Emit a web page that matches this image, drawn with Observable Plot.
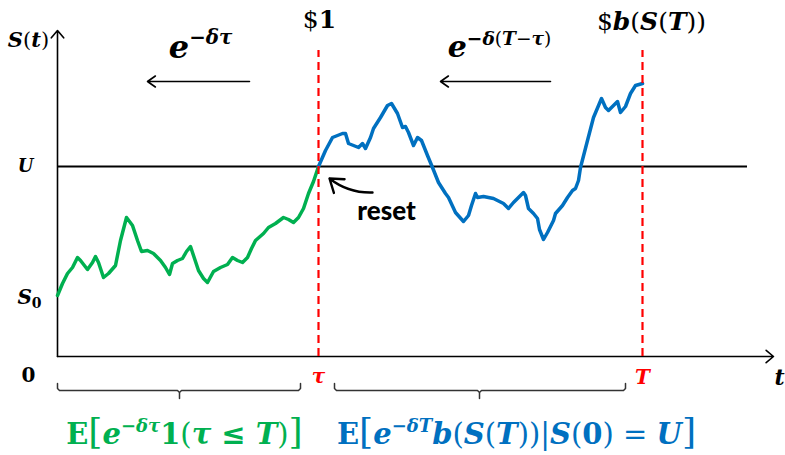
<!DOCTYPE html>
<html><head><meta charset="utf-8">
<script src="https://cdn.jsdelivr.net/npm/d3@7"></script>
<script src="https://cdn.jsdelivr.net/npm/@observablehq/plot@0.6"></script>
<style>body{margin:0;background:#fff}</style>
</head><body><div id="chart"></div>
<script>
// ---- data (time t, level S) ----
const greenT = [0,5,10,15,20,23,30,35,38,41,46,51,58,63,69,75,80,84,90,96,103,108,112,115,120,125,129,133,136,141,146,150,156,163,170,175,180,185,190,194,198,206,211,218,226,231,236,241,246,251,256,261];
const greenS = [61,73,83,89,99,96,87,94,100,94,79,83,91,116,139,131,116,105,106,103,96,89,82,93,96,98,105,110,101,86,78,74,85,89,92,99,96,94,99,108,116,123,129,133,139,137,134,139,148,163,175,190];
const blueT = [261,268,275,285,288,291,296,301,305,308,313,316,323,330,334,340,345,348,351,356,360,364,370,375,381,388,391,398,406,411,414,418,420,426,436,446,451,456,461,466,468,471,476,480,482,486,490,496,498,505,510,515,518,521,523,530,536,544,548,551,556,560,563,568,573,578,585];
const blueS = [190,206,219,223,223,213,211,209,213,208,219,228,239,251,253,243,229,230,224,211,219,216,201,189,174,163,159,144,135,141,151,163,159,160,158,153,148,154,159,164,161,148,143,138,127,117,124,136,143,151,159,166,168,176,189,216,239,258,249,246,251,255,244,250,263,271,273];
const S0 = 60, U = 190, tau = 261, Tend = 585;
const tMax = 716, sMax = 326;            // axis extents
const uLineEnd = 690, dashTop = 306;      // reference-line extents

const green = "#00b050", blue = "#0070c0", red = "#ff0000";
const greenPath = greenT.map((t, i) => ({t, S: greenS[i]}));
const bluePath = blueT.map((t, i) => ({t, S: blueS[i]}));

// ---- annotation layout ----
const axes = [
  {x1: 0, y1: 0, x2: 0, y2: sMax},
  {x1: 0, y1: 0, x2: tMax, y2: 0}
];
const discountArrows = [
  {x1: 192, y1: 275, x2: 90, y2: 275},
  {x1: 493, y1: 275, x2: 383, y2: 275}
];
const resetArrow = [{x1: 315, y1: 164, x2: 272, y2: 178}];
const braces = [{from: 0, to: 243, tip: 122}, {from: 277, to: 568, tip: 422}];
function bracePoints(b, k) {
  const top = -27, mid = -34, bot = -42;
  return [
    {x: b.from, y: top, k}, {x: b.from, y: mid + 2, k}, {x: b.from + 2, y: mid, k},
    {x: b.tip - 2, y: mid, k}, {x: b.tip, y: mid - 2, k}, {x: b.tip, y: bot, k},
    {x: b.tip, y: mid - 2, k}, {x: b.tip + 2, y: mid, k},
    {x: b.to - 2, y: mid, k}, {x: b.to, y: mid + 2, k}, {x: b.to, y: top, k}
  ];
}
const braceData = braces.flatMap((b, i) => bracePoints(b, i));

const rich = [
  {x: -29, y: 316, size: 21, color: "#000", parts: [["S","bi"],["(","r"],["t","bi"],[")","r"]]},
  {x: -32, y: 190, size: 18, color: "#000", parts: [["U","bi"]]},
  {x: -28, y: 59, size: 20, color: "#000", parts: [["S","bi"],["0","sub"]]},
  {x: -29, y: -19, size: 20, color: "#000", parts: [["0","b"]]},
  {x: tau, y: -20, size: 20, color: red, parts: [["τ","bi"]]},
  {x: Tend, y: -21, size: 20, color: red, parts: [["T","bi"]]},
  {x: 722, y: -21, size: 22, color: "#000", parts: [["t","bi"]]},
  {x: 262, y: 337, size: 25, color: "#000", parts: [["$","r"],["1","b"]]},
  {x: 594, y: 335, size: 25, color: "#000", parts: [["$","r"],["b","bi"],["(","r"],["S","bi"],["(","r"],["T","bi"],[")","r"],[")","r"]]},
  {x: 143, y: 309, size: 32, color: "#000", parts: [["e","bi"],["−δτ","supbi"]]},
  {x: 442, y: 309, size: 30, color: "#000", parts: [["e","bi"],["−δ","supbi"],["(","supr"],["T","supbi"],["−","supr"],["τ","supbi"],[")","supr"]]},
  {x: 127, y: -78, size: 29, color: green, parts: [["E","b"],["[","big"],["e","bi"],["−δτ","supbi"],["1","b"],["(","r"],["τ","bi"],["\u00a0≤\u00a0","b"],["T","bi"],[")","r"],["]","big"]]},
  {x: 459, y: -78, size: 29, color: blue, parts: [["E","b"],["[","big"],["e","bi"],["−δT","supbi"],["b","bi"],["(","r"],["S","bi"],["(","r"],["T","bi"],[")","r"],[")","r"],["|","r"],["S","bi"],["(","r"],["0","b"],[")","r"],["\u00a0=\u00a0","r"],["U","bi"],["]","big"]]}
];
const plain = d => d.parts.map(p => p[0]).join("");
const resetLabel = [{x: 329, y: 145, text: "reset"}];

const styles = {
  bi: {w: "bold", s: "italic", k: 1, shift: 0},
  b: {w: "bold", s: "normal", k: 1, shift: 0},
  r: {w: "normal", s: "normal", k: 1, shift: 0},
  big: {w: "normal", s: "normal", k: 1.25, shift: 0},
  sub: {w: "bold", s: "normal", k: 0.7, shift: 0.22},
  supbi: {w: "bold", s: "italic", k: 0.62, shift: -0.42},
  supr: {w: "normal", s: "normal", k: 0.62, shift: -0.42}
};

const serif = "'DejaVu Serif', serif";

const chart = Plot.plot({
  width: 785, height: 455,
  marginLeft: 0, marginRight: 0, marginTop: 0, marginBottom: 0,
  x: {domain: [-57, 728], axis: null},
  y: {domain: [-99, 356], axis: null},
  color: {type: "identity"},
  style: {overflow: "visible", background: "#fff"},
  marks: [
    Plot.ruleY([U], {x1: 0, x2: uLineEnd, stroke: "#000", strokeWidth: 2}),
    Plot.arrow(axes, {x1: "x1", y1: "y1", x2: "x2", y2: "y2", stroke: "#000", strokeWidth: 1.6, headLength: 9, headAngle: 80}),
    Plot.line(greenPath, {x: "t", y: "S", stroke: green, strokeWidth: 3.5, strokeLinejoin: "round", strokeLinecap: "round"}),
    Plot.line(bluePath, {x: "t", y: "S", stroke: blue, strokeWidth: 3.5, strokeLinejoin: "round", strokeLinecap: "round"}),
    Plot.ruleX([tau, Tend], {y1: 0, y2: dashTop, stroke: red, strokeWidth: 2.2, strokeDasharray: "8,5"}),
    Plot.arrow(discountArrows, {x1: "x1", y1: "y1", x2: "x2", y2: "y2", stroke: "#000", strokeWidth: 1.6, headLength: 9, headAngle: 70}),
    Plot.arrow(resetArrow, {x1: "x1", y1: "y1", x2: "x2", y2: "y2", stroke: "#000", strokeWidth: 2.4, headLength: 10, headAngle: 70, bend: 20}),
    Plot.line(braceData, {x: "x", y: "y", z: "k", stroke: "#333", strokeWidth: 1.5}),
    Plot.text(resetLabel, {x: "x", y: "y", text: "text", fontFamily: "Lato, 'Open Sans', sans-serif", fontWeight: 900, fontSize: 26, fill: "#000"}),
    Plot.text(rich, {x: "x", y: "y", text: plain, fill: "color", fontSize: "size", fontFamily: serif, textAnchor: "middle"})
  ]
});
document.getElementById("chart").appendChild(chart);

// rich text: bold italic letters, superscripts, subscripts
const NS = "http://www.w3.org/2000/svg";
const specByText = new Map(rich.map(d => [plain(d), d]));
chart.querySelectorAll("text").forEach(el => {
  const spec = specByText.get(el.textContent);
  if (!spec) return;
  const base = spec.size;
  while (el.firstChild) el.removeChild(el.firstChild);
  let cur = 0;
  for (const [str, st] of spec.parts) {
    const S = styles[st];
    const ts = document.createElementNS(NS, "tspan");
    ts.textContent = str;
    ts.setAttribute("font-weight", S.w);
    ts.setAttribute("font-style", S.s);
    ts.setAttribute("font-size", (base * S.k).toFixed(1));
    const target = S.shift * base;
    if (target !== cur) { ts.setAttribute("dy", (target - cur).toFixed(1)); cur = target; }
    el.appendChild(ts);
  }
});
</script>
</body></html>
